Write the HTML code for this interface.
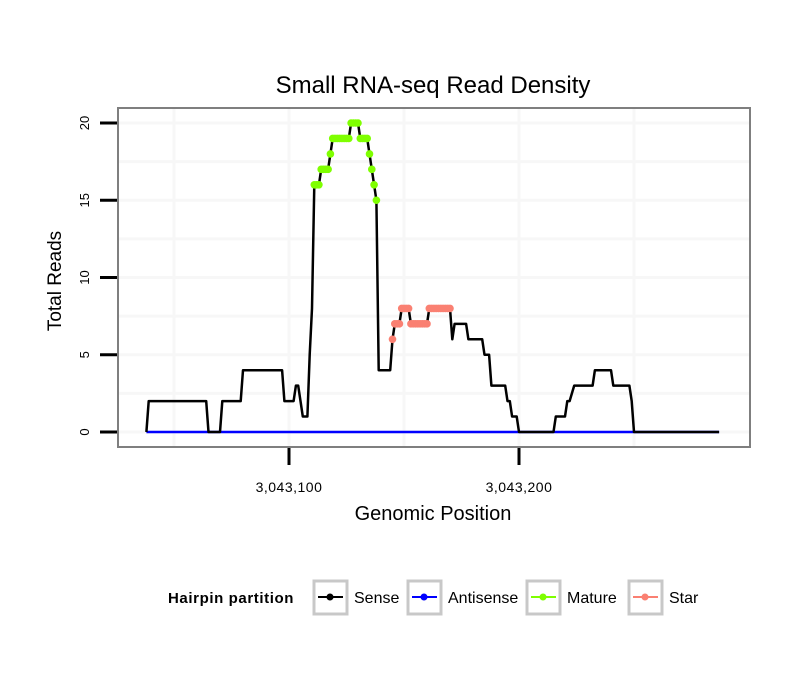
<!DOCTYPE html>
<html><head><meta charset="utf-8"><style>
body{margin:0;background:#fff;font-family:"Liberation Sans",sans-serif}
</style></head><body>
<svg width="810" height="690" xmlns="http://www.w3.org/2000/svg" font-family="Liberation Sans, sans-serif">
<rect width="810" height="690" fill="#fff"/>
<text x="433" y="93" font-size="24" text-anchor="middle">Small RNA-seq Read Density</text>
<g id="grid"></g>
<g id="plot"></g>
<rect x="118" y="108" width="632" height="339" fill="none" stroke="#7f7f7f" stroke-width="2"/>
<g id="axes"></g>
<text x="433" y="520" font-size="20" text-anchor="middle">Genomic Position</text>
<text transform="translate(61,281) rotate(-90)" font-size="19" text-anchor="middle">Total Reads</text>
<g font-size="16">
<text x="168" y="603" font-weight="bold" font-size="15" letter-spacing="0.6">Hairpin partition</text>
<g><rect x="314" y="581" width="33" height="33" fill="#fff" stroke="#c8c8c8" stroke-width="3"/><line x1="318" y1="597" x2="343" y2="597" stroke="#000" stroke-width="2"/><circle cx="330" cy="597" r="3.5" fill="#000"/><text x="354" y="603">Sense</text></g>
<g><rect x="408" y="581" width="33" height="33" fill="#fff" stroke="#c8c8c8" stroke-width="3"/><line x1="412" y1="597" x2="437" y2="597" stroke="#0000ff" stroke-width="2"/><circle cx="424" cy="597" r="3.5" fill="#0000ff"/><text x="448" y="603">Antisense</text></g>
<g><rect x="527" y="581" width="33" height="33" fill="#fff" stroke="#c8c8c8" stroke-width="3"/><line x1="531" y1="597" x2="556" y2="597" stroke="#7fff00" stroke-width="2"/><circle cx="543" cy="597" r="3.5" fill="#7fff00"/><text x="567" y="603">Mature</text></g>
<g><rect x="629" y="581" width="33" height="33" fill="#fff" stroke="#c8c8c8" stroke-width="3"/><line x1="633" y1="597" x2="658" y2="597" stroke="#fa8072" stroke-width="2"/><circle cx="645" cy="597" r="3.5" fill="#fa8072"/><text x="669" y="603">Star</text></g>
</g>
</svg>
<script>
const runStart=[3043038,3043039,3043065,3043071,3043080,3043098,3043103,3043105,3043106,3043109,3043110,3043111,3043114,3043115,3043118,3043119,3043127,3043131,3043135,3043136,3043137,3043138,3043139,3043145,3043146,3043149,3043153,3043161,3043171,3043172,3043178,3043185,3043188,3043195,3043197,3043200,3043216,3043221,3043223,3043224,3043233,3043241,3043249,3043250];
const runEnd  =[3043038,3043064,3043070,3043079,3043097,3043102,3043104,3043105,3043108,3043109,3043110,3043113,3043114,3043117,3043118,3043126,3043130,3043134,3043135,3043136,3043137,3043138,3043144,3043145,3043148,3043152,3043160,3043170,3043171,3043177,3043184,3043187,3043194,3043196,3043199,3043215,3043220,3043222,3043223,3043232,3043240,3043248,3043249,3043287];
const runReads=[0,2,0,2,4,2,3,2,1,5,8,16,17,17,18,19,20,19,18,17,16,15,4,6,7,8,7,8,6,7,6,5,3,2,1,0,1,2,2.5,3,4,3,2,0];
const matureRange=[3043111,3043138];
const starRange=[3043145,3043170];
const yTicks=[0,5,10,15,20];
const xTicks=[3043100,3043200];
const xTickLabels=["3,043,100","3,043,200"];
const xGrid=[3043050,3043100,3043150,3043200,3043250];
const yGrid=[0,2.5,5,7.5,10,12.5,15,17.5,20];

const X=p=>289+(p-3043100)*2.3;
const Y=v=>432-15.45*v;
const NS="http://www.w3.org/2000/svg";
function mk(t,a,parent){const e=document.createElementNS(NS,t);for(const k in a)e.setAttribute(k,a[k]);parent.appendChild(e);return e;}
const grid=document.getElementById('grid'),plot=document.getElementById('plot'),axes=document.getElementById('axes');
xGrid.forEach(p=>{const l=mk('line',{x1:X(p),x2:X(p),y1:109,y2:446,stroke:'#f7f7f7','stroke-width':3},grid);

});
yGrid.forEach(v=>{const l=mk('line',{x1:119,x2:749,y1:Y(v),y2:Y(v),stroke:'#f7f7f7','stroke-width':3},grid);

});
const pos=[],val=[];
for(let i=0;i<runStart.length;i++)for(let p=runStart[i];p<=runEnd[i];p++){pos.push(p);val.push(runReads[i]);}
const anti=mk('line',{x1:X(pos[0]),x2:X(pos[pos.length-1]),y1:Y(0),y2:Y(0),stroke:'#0000ff','stroke-width':2.5},plot);


const sense=mk('polyline',{points:pos.map((p,i)=>X(p)+','+Y(val[i])).join(' '),fill:'none',stroke:'#000','stroke-width':2.5,'stroke-linejoin':'round'},plot);


pos.forEach((p,i)=>{let c=null;
if(p>=matureRange[0]&&p<=matureRange[1])c='#7fff00';else if(p>=starRange[0]&&p<=starRange[1])c='#fa8072';
if(c){const d=mk('circle',{cx:X(p),cy:Y(val[i]),r:3.8,fill:c},plot);

}});
yTicks.forEach(v=>{const t=mk('line',{x1:100,x2:117,y1:Y(v),y2:Y(v),stroke:'#000','stroke-width':3},axes);


const tx=mk('text',{transform:`translate(89,${Y(v)}) rotate(-90)`,'font-size':13,'text-anchor':'middle'},axes);tx.textContent=v;

});
xTicks.forEach((p,i)=>{const t=mk('line',{x1:X(p),x2:X(p),y1:448,y2:465,stroke:'#000','stroke-width':3},axes);


const tx=mk('text',{x:X(p),y:492,'font-size':14,'letter-spacing':'0.5','text-anchor':'middle'},axes);tx.textContent=xTickLabels[i];

});
</script>
</body></html>
